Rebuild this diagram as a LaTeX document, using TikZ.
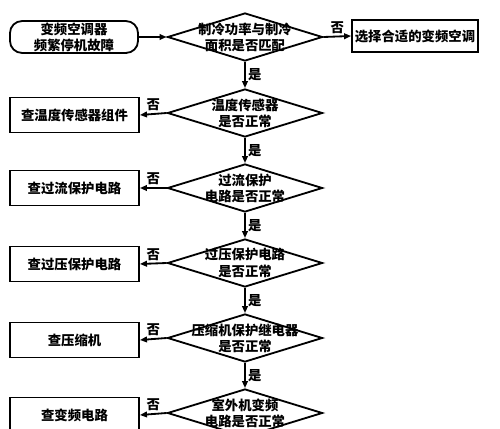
\documentclass[tikz,border=0pt]{standalone}
\usepackage{fontspec}
\setmainfont{Noto Sans CJK SC}
\usetikzlibrary{positioning,arrows.meta,shapes.geometric}

\begin{document}
\begin{tikzpicture}[
  x=0.025cm,y=-0.025cm,>={Triangle[length=5pt,width=4pt]},
  font=\fontsize{9.5}{11.5}\selectfont\bfseries,
  line width=1.3pt,
  dec/.style={draw,diamond,inner sep=0pt,minimum width=3.875cm,minimum height=1.2cm},
  dtxt/.style={align=center,inner sep=0pt},
  chk/.style={draw,rectangle,minimum width=3.225cm,minimum height=0.875cm,inner sep=2pt},
  arr/.style={->},
  lbl/.style={inner sep=1.5pt},
]
  \useasboundingbox (0,0) rectangle (500,428);
  \clip (0,0) rectangle (500,428);

  % start and first decision
  \node[draw,rounded corners=0.3cm,minimum width=3.2cm,minimum height=0.78cm,
        align=center,inner sep=1pt] (start) at (74,37)
    {变频空调器\\频繁停机故障};
  \node[dec] (d1) at (245,37) {};
  \node[dtxt] (d1t) at (d1) {制冷功率与制冷\\面积是否匹配};
  \node[chk,minimum width=3.125cm,minimum height=0.78cm] (sel) at (415,36)
    {选择合适的变频空调};

  % decisions down the middle
  \node[dec] (d2) at (245,113) {};
  \node[dtxt] (d2t) at (d2) {温度传感器\\是否正常};
  \node[dec] (d3) at (245,188) {};
  \node[dtxt] (d3t) at (d3) {过流保护\\电路是否正常};
  \node[dec] (d4) at (245,263) {};
  \node[dtxt] (d4t) at (d4) {过压保护电路\\是否正常};
  \node[dec] (d5) at (245,338) {};
  \node[dtxt] (d5t) at (d5) {压缩机保护继电器\\是否正常};
  \node[dec] (d6) at (245,413) {};
  \node[dtxt] (d6t) at (d6) {室外机变频\\电路是否正常};

  % checks on the left
  \node[chk] (c2) at (74.5,115) {查温度传感器组件};
  \node[chk] (c3) at (74.5,188) {查过流保护电路};
  \node[chk] (c4) at (74.5,264) {查过压保护电路};
  \node[chk] (c5) at (74.5,340) {查压缩机};
  \node[chk] (c6) at (74.5,415) {查变频电路};

  % connectors
  \draw[arr] (start) -- (d1);
  \draw[arr] (d1.east) -- node[lbl,above]{否} (sel.west);
  \draw[arr] (d1.south) -- node[lbl,right]{是} (d2.north);
  \draw[arr] (d2.south) -- node[lbl,right]{是} (d3.north);
  \draw[arr] (d3.south) -- node[lbl,right]{是} (d4.north);
  \draw[arr] (d4.south) -- node[lbl,right]{是} (d5.north);
  \draw[arr] (d5.south) -- node[lbl,right]{是} (d6.north);
  \draw[arr] (d2.west) -- node[lbl,above]{否} (c2.east);
  \draw[arr] (d3.west) -- node[lbl,above]{否} (c3.east);
  \draw[arr] (d4.west) -- node[lbl,above]{否} (c4.east);
  \draw[arr] (d5.west) -- node[lbl,above]{否} (c5.east);
  \draw[arr] (d6.west) -- node[lbl,above]{否} (c6.east);
\end{tikzpicture}
\end{document}
